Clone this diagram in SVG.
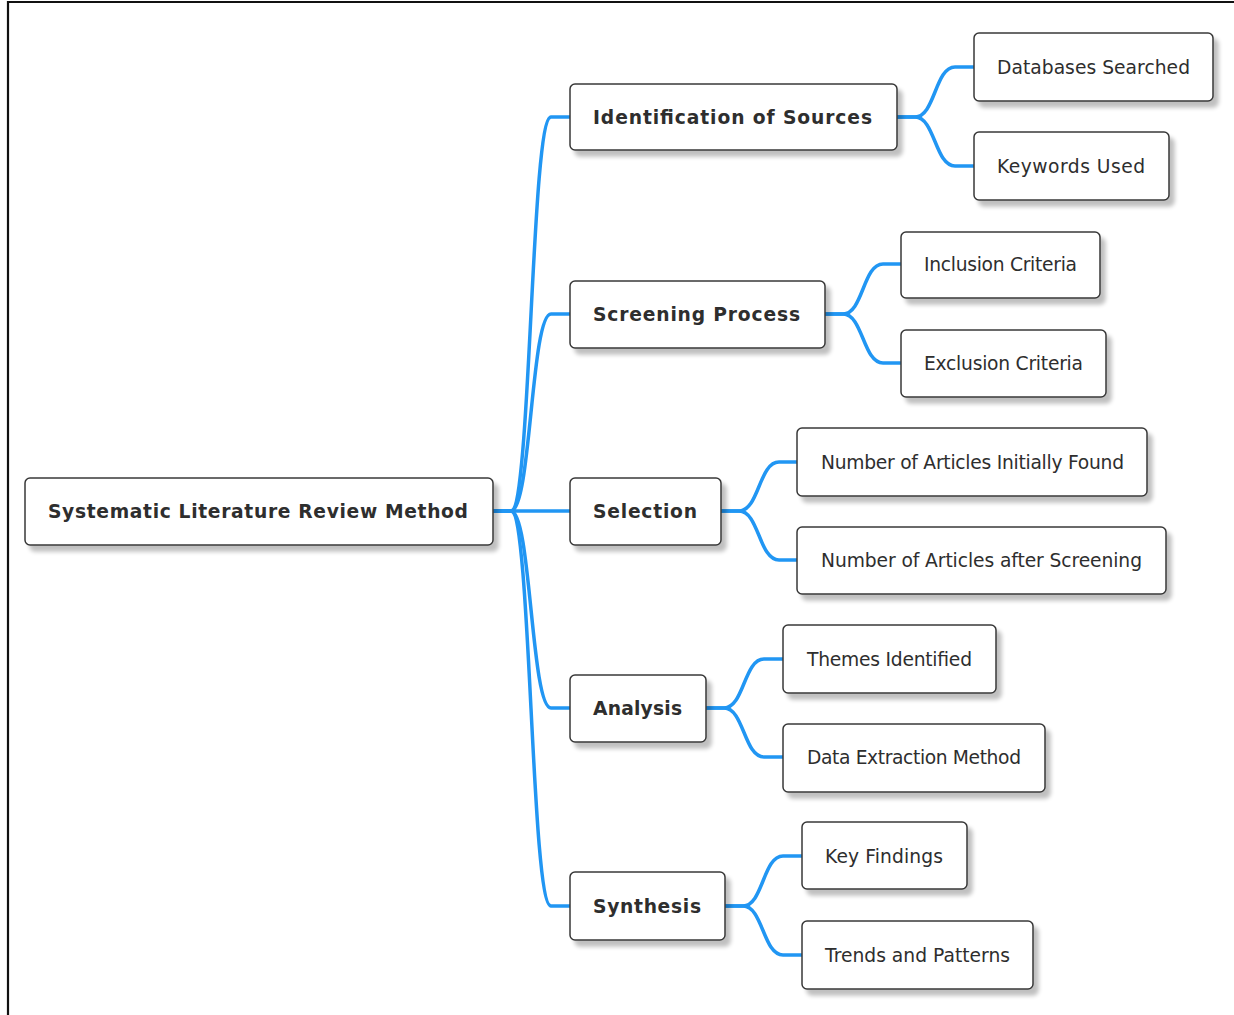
<svg xmlns="http://www.w3.org/2000/svg" width="1234" height="1015" viewBox="0 0 1234 1015">
<defs>
<filter id="sh" x="-10%" y="-20%" width="130%" height="160%">
<feGaussianBlur in="SourceAlpha" stdDeviation="2.2"/>
<feOffset dx="5" dy="6" result="b"/>
<feComponentTransfer><feFuncA type="linear" slope="0.25"/></feComponentTransfer>
<feMerge><feMergeNode/><feMergeNode in="SourceGraphic"/></feMerge>
</filter>
<style>
.box{fill:#ffffff;stroke:#383838;stroke-width:1.5;filter:url(#sh)}
.t{font-family:"DejaVu Sans","Liberation Sans",sans-serif;font-size:18.7px;fill:#2e2e2e}
.b{font-weight:bold}
.c{fill:none;stroke:#2196F3;stroke-width:3.5;stroke-linecap:round}
</style>
</defs>
<rect width="1234" height="1015" fill="#ffffff"/>
<path d="M8 1016 L8 2 L1236 2" fill="none" stroke="#111111" stroke-width="2.2"/>
<g id="connectors">
<path class="c" d="M493 511 L511 511 C531 511 531 117 551 117 L570 117"/>
<path class="c" d="M493 511 L511 511 C531 511 531 314 551 314 L570 314"/>
<path class="c" d="M493 511 L570 511"/>
<path class="c" d="M493 511 L511 511 C531 511 531 708 551 708 L570 708"/>
<path class="c" d="M493 511 L511 511 C531 511 531 906 551 906 L570 906"/>
<path class="c" d="M897 117 L915 117 C935 117 935 67 955 67 L974 67"/>
<path class="c" d="M897 117 L915 117 C935 117 935 166 955 166 L974 166"/>
<path class="c" d="M825 314 L843 314 C863 314 863 264 883 264 L901 264"/>
<path class="c" d="M825 314 L843 314 C863 314 863 363 883 363 L901 363"/>
<path class="c" d="M721 511 L739 511 C759 511 759 462 779 462 L797 462"/>
<path class="c" d="M721 511 L739 511 C759 511 759 560 779 560 L797 560"/>
<path class="c" d="M706 708 L724 708 C744 708 744 659 764 659 L783 659"/>
<path class="c" d="M706 708 L724 708 C744 708 744 757 764 757 L783 757"/>
<path class="c" d="M725 906 L743 906 C763 906 763 856 783 856 L802 856"/>
<path class="c" d="M725 906 L743 906 C763 906 763 955 783 955 L802 955"/>
</g>
<g id="root"><rect class="box" x="25" y="478" width="468" height="67" rx="5"/><text class="t b" x="48" y="518" textLength="420" lengthAdjust="spacing">Systematic Literature Review Method</text></g>
<g id="identification"><rect class="box" x="570" y="84" width="327" height="66" rx="5"/><text class="t b" x="593" y="124" textLength="279" lengthAdjust="spacing">Identification of Sources</text></g>
<g id="screening"><rect class="box" x="570" y="281" width="255" height="67" rx="5"/><text class="t b" x="593" y="321" textLength="207" lengthAdjust="spacing">Screening Process</text></g>
<g id="selection"><rect class="box" x="570" y="478" width="151" height="67" rx="5"/><text class="t b" x="593" y="518" textLength="104" lengthAdjust="spacing">Selection</text></g>
<g id="analysis"><rect class="box" x="570" y="675" width="136" height="67" rx="5"/><text class="t b" x="593" y="715" textLength="89" lengthAdjust="spacing">Analysis</text></g>
<g id="synthesis"><rect class="box" x="570" y="872" width="155" height="68" rx="5"/><text class="t b" x="593" y="913" textLength="108" lengthAdjust="spacing">Synthesis</text></g>
<g id="databases"><rect class="box" x="974" y="33" width="239" height="68" rx="5"/><text class="t" x="997" y="74" textLength="193" lengthAdjust="spacing">Databases Searched</text></g>
<g id="keywords"><rect class="box" x="974" y="132" width="195" height="68" rx="5"/><text class="t" x="997" y="173" textLength="148" lengthAdjust="spacing">Keywords Used</text></g>
<g id="inclusion"><rect class="box" x="901" y="232" width="199" height="66" rx="5"/><text class="t" x="924" y="271" textLength="153" lengthAdjust="spacing">Inclusion Criteria</text></g>
<g id="exclusion"><rect class="box" x="901" y="330" width="205" height="67" rx="5"/><text class="t" x="924" y="370" textLength="159" lengthAdjust="spacing">Exclusion Criteria</text></g>
<g id="initially"><rect class="box" x="797" y="428" width="350" height="68" rx="5"/><text class="t" x="821" y="469" textLength="303" lengthAdjust="spacing">Number of Articles Initially Found</text></g>
<g id="after"><rect class="box" x="797" y="527" width="369" height="67" rx="5"/><text class="t" x="821" y="567" textLength="321" lengthAdjust="spacing">Number of Articles after Screening</text></g>
<g id="themes"><rect class="box" x="783" y="625" width="213" height="68" rx="5"/><text class="t" x="807" y="666" textLength="165" lengthAdjust="spacing">Themes Identified</text></g>
<g id="extraction"><rect class="box" x="783" y="724" width="262" height="68" rx="5"/><text class="t" x="807" y="764" textLength="214" lengthAdjust="spacing">Data Extraction Method</text></g>
<g id="findings"><rect class="box" x="802" y="822" width="165" height="67" rx="5"/><text class="t" x="825" y="863" textLength="118" lengthAdjust="spacing">Key Findings</text></g>
<g id="trends"><rect class="box" x="802" y="921" width="231" height="68" rx="5"/><text class="t" x="825" y="962" textLength="185" lengthAdjust="spacing">Trends and Patterns</text></g>
</svg>
